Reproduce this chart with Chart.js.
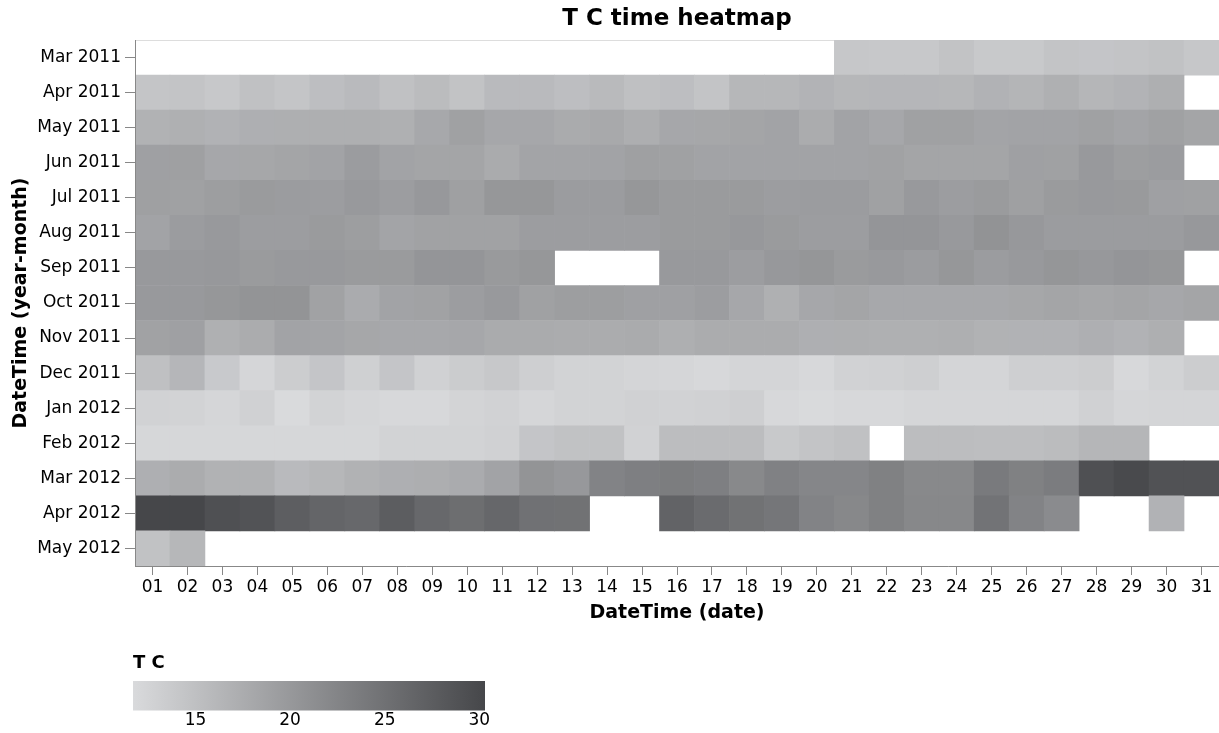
<!DOCTYPE html>
<html>
<head>
<meta charset="utf-8">
<script src="https://cdn.jsdelivr.net/npm/chart.js@4"></script>
<style>
  body { margin: 0; background: #fff; }
  #wrap { position: relative; width: 1219px; height: 733px; }
  #main { position: absolute; left: 0; top: 0; width: 1219px; height: 733px; }
  #scale { position: absolute; left: 0; top: 640px; width: 520px; height: 93px; }
</style>
</head>
<body>
<div id="wrap">
  <div id="main"><canvas id="heat"></canvas></div>
  <div id="scale"><canvas id="legend"></canvas></div>
</div>
<script>
// T C (temperature) per day, one array per month, null = no reading
const months = ["Mar 2011", "Apr 2011", "May 2011", "Jun 2011", "Jul 2011", "Aug 2011", "Sep 2011",
  "Oct 2011", "Nov 2011", "Dec 2011", "Jan 2012", "Feb 2012", "Mar 2012", "Apr 2012", "May 2012"];
const days = [1, 2, 3, 4, 5, 6, 7, 8, 9, 10, 11, 12, 13, 14, 15, 16, 17, 18, 19, 20,
  21, 22, 23, 24, 25, 26, 27, 28, 29, 30, 31];

const mar2011 = [null, null, null, null, null, null, null, null, null, null,
  null, null, null, null, null, null, null, null, null, null,
  14.1, 14.0, 14.0, 14.6, 13.9, 13.9, 14.5, 14.3, 14.5, 14.8, 14.1];
const apr2011 = [14.4, 14.5, 14.0, 14.9, 14.4, 15.2, 15.7, 14.9, 15.5, 14.6,
  15.7, 15.7, 15.2, 15.8, 15.0, 15.2, 14.5, 16.1, 16.1, 16.6,
  16.1, 16.2, 16.2, 16.1, 16.7, 16.4, 17.0, 16.3, 16.6, 17.2, null];
const may2011 = [16.8, 17.0, 16.7, 17.1, 17.2, 17.2, 17.2, 17.0, 18.0, 18.9,
  18.1, 18.1, 17.7, 17.9, 17.3, 18.1, 18.2, 18.4, 18.6, 17.5,
  18.6, 18.1, 18.9, 18.9, 18.5, 18.6, 18.6, 18.9, 18.5, 18.9, 18.4];
const jun2011 = [19.0, 19.1, 18.1, 18.2, 18.4, 18.6, 19.5, 18.6, 18.4, 18.4,
  17.7, 18.5, 18.5, 18.6, 19.1, 18.9, 18.6, 18.6, 18.6, 18.6,
  18.6, 18.8, 18.4, 18.4, 18.4, 19.0, 18.9, 19.9, 19.3, 19.5, null];
const jul2011 = [19.1, 18.9, 19.3, 19.7, 19.5, 19.4, 19.9, 19.4, 20.0, 19.1,
  20.2, 20.2, 19.5, 19.5, 20.2, 19.7, 19.7, 19.7, 19.4, 19.5,
  19.5, 18.9, 19.9, 19.4, 19.7, 19.1, 19.7, 19.9, 19.8, 19.0, 18.9];
const aug2011 = [18.6, 19.5, 19.9, 19.4, 19.4, 19.7, 19.3, 18.5, 18.8, 18.8,
  18.8, 19.4, 19.4, 19.4, 19.4, 19.7, 19.7, 20.0, 19.7, 19.4,
  19.4, 20.4, 20.4, 19.9, 20.7, 20.0, 19.5, 19.5, 19.5, 19.5, 20.0];
const sep2011 = [19.9, 19.9, 20.0, 19.7, 19.9, 19.9, 19.7, 19.7, 20.4, 20.4,
  19.8, 20.2, null, null, null, 19.9, 19.9, 19.4, 20.0, 20.3,
  19.7, 19.9, 19.5, 20.2, 19.5, 19.9, 20.3, 20.0, 20.4, 20.2, null];
const oct2011 = [19.9, 19.9, 20.2, 20.6, 20.6, 18.8, 17.6, 18.6, 18.8, 19.4,
  19.9, 18.9, 19.3, 19.3, 19.0, 19.0, 19.4, 18.1, 17.0, 18.1,
  18.4, 18.0, 18.0, 18.0, 18.0, 18.2, 18.4, 18.2, 18.4, 18.1, 18.4];
const nov2011 = [18.8, 19.0, 17.0, 17.5, 18.6, 18.5, 18.2, 18.0, 18.0, 18.1,
  17.7, 17.7, 17.5, 17.5, 17.7, 17.2, 17.5, 17.5, 17.5, 17.1,
  17.2, 17.0, 17.0, 17.2, 16.8, 16.7, 16.7, 17.1, 16.7, 17.2, null];
const dec2011 = [15.0, 16.2, 13.8, 12.2, 13.4, 14.3, 13.0, 14.3, 12.9, 13.5,
  14.0, 13.1, 12.6, 12.6, 12.3, 12.2, 12.0, 12.3, 12.3, 12.0,
  12.7, 12.9, 13.1, 12.3, 12.3, 13.1, 13.1, 13.4, 12.0, 12.6, 13.4];
const jan2012 = [12.7, 12.6, 12.2, 12.9, 11.7, 12.6, 12.2, 12.0, 12.0, 12.5,
  12.7, 12.2, 12.6, 12.6, 12.9, 12.7, 12.9, 13.1, 12.0, 11.7,
  12.0, 12.0, 12.2, 12.2, 12.2, 12.2, 12.2, 12.9, 12.2, 12.3, 12.3];
const feb2012 = [12.1, 12.1, 12.1, 12.1, 12.1, 12.1, 12.1, 12.6, 12.6, 12.6,
  12.9, 14.3, 14.7, 14.7, 12.7, 15.4, 15.4, 15.4, 13.9, 14.5,
  14.9, null, 15.4, 15.4, 15.3, 15.3, 15.5, 16.3, 16.3, null, null];
const mar2012 = [17.1, 17.5, 16.8, 16.8, 15.7, 16.1, 16.8, 17.1, 17.3, 17.6,
  18.6, 20.6, 20.0, 22.7, 23.2, 23.5, 23.2, 22.0, 22.9, 22.3,
  22.3, 23.0, 22.0, 22.0, 23.8, 23.0, 23.6, 29.1, 29.9, 28.9, 28.9];
const apr2012 = [30.3, 30.3, 29.1, 28.8, 27.4, 26.5, 26.1, 27.5, 26.1, 25.4,
  26.2, 25.0, 24.9, null, null, 26.7, 25.7, 24.9, 24.3, 22.7,
  22.1, 23.0, 22.1, 22.1, 24.7, 22.7, 21.7, null, null, 16.7, null];
const may2012 = [14.8, 16.1, null, null, null, null, null, null, null, null,
  null, null, null, null, null, null, null, null, null, null,
  null, null, null, null, null, null, null, null, null, null, null];

const rows = [mar2011, apr2011, may2011, jun2011, jul2011, aug2011, sep2011,
  oct2011, nov2011, dec2011, jan2012, feb2012, mar2012, apr2012, may2012];
const legendTicks = [15, 20, 25, 30];

const allValues = rows.flat().filter(v => v !== null);
const tMin = Math.min(...allValues);
const tMax = Math.max(...allValues);

const light = [217, 218, 220];
const dark = [70, 71, 74];
function colorFor(t) {
  const f = (t - tMin) / (tMax - tMin);
  const c = light.map((l, i) => Math.round(l + (dark[i] - l) * f));
  return `rgb(${c[0]}, ${c[1]}, ${c[2]})`;
}

const cells = [];
rows.forEach((row, r) => {
  row.forEach((t, i) => {
    if (t === null) return;
    cells.push({ x: [days[i] - 0.5, days[i] + 0.5], y: months[r], t: t });
  });
});

const font = "'DejaVu Sans', sans-serif";
Chart.defaults.font.family = font;
Chart.defaults.color = "#000";

const frame = {
  id: "frame",
  beforeDatasetsDraw(chart) {
    const { ctx, chartArea: a } = chart;
    ctx.save();
    ctx.strokeStyle = "#ddd";
    ctx.lineWidth = 1;
    ctx.strokeRect(a.left + 0.5, a.top + 0.5, a.right - a.left, a.bottom - a.top);
    ctx.restore();
  },
};

new Chart(document.getElementById("heat"), {
  type: "bar",
  data: {
    labels: months,
    datasets: [{
      data: cells,
      backgroundColor: (ctx) => (ctx.raw ? colorFor(ctx.raw.t) : "transparent"),
      borderWidth: 0,
      barPercentage: 1,
      categoryPercentage: 1,
    }],
  },
  options: {
    indexAxis: "y",
    responsive: true,
    maintainAspectRatio: false,
    animation: false,
    layout: { padding: { top: 0, left: 0, right: 0, bottom: 108.8 } },
    plugins: {
      legend: { display: false },
      tooltip: { enabled: false },
      title: {
        display: true,
        text: "T C time heatmap",
        fullSize: false,
        font: { size: 23, weight: "bold" },
        color: "#000",
        padding: { top: 5, bottom: 7.4 },
      },
    },
    scales: {
      x: {
        type: "linear",
        position: "bottom",
        min: 0.5,
        max: 31.5,
        afterBuildTicks: (scale) => {
          scale.ticks = days.map((d) => ({ value: d }));
        },
        ticks: {
          autoSkip: false,
          maxRotation: 0,
          padding: 2,
          color: "#000",
          font: { size: 17 },
          callback: (v) => String(v).padStart(2, "0"),
        },
        grid: { drawOnChartArea: false, tickLength: 9, color: "#888" },
        border: { display: true, color: "#888", z: 1 },
        title: {
          display: true,
          text: "DateTime (date)",
          font: { size: 19, weight: "bold" },
          color: "#000",
          padding: { top: 2, bottom: 0 },
        },
      },
      y: {
        type: "category",
        afterFit: (scale) => { scale.width = 135; },
        ticks: { padding: 4, color: "#000", font: { size: 17 } },
        grid: { offset: false, drawOnChartArea: false, tickLength: 10, color: "#888" },
        border: { display: true, color: "#888", z: 1 },
        title: {
          display: true,
          text: "DateTime (year-month)",
          font: { size: 19, weight: "bold" },
          color: "#000",
          padding: { top: 10, bottom: 0 },
        },
      },
    },
  },
  plugins: [frame],
});

// colour legend: one floating bar over the value range, filled with the ramp
new Chart(document.getElementById("legend"), {
  type: "bar",
  data: {
    labels: ["T C"],
    datasets: [{
      data: [[tMin, tMax]],
      borderWidth: 0,
      barPercentage: 1,
      categoryPercentage: 1,
      backgroundColor: (ctx) => {
        const area = ctx.chart.chartArea;
        if (!area) return colorFor(tMin);
        const g = ctx.chart.ctx.createLinearGradient(area.left, 0, area.right, 0);
        g.addColorStop(0, colorFor(tMin));
        g.addColorStop(1, colorFor(tMax));
        return g;
      },
    }],
  },
  options: {
    indexAxis: "y",
    responsive: true,
    maintainAspectRatio: false,
    animation: false,
    layout: { padding: { left: 133, right: 35, top: 0, bottom: 2 } },
    plugins: {
      legend: { display: false },
      tooltip: { enabled: false },
      title: {
        display: true,
        text: "T C",
        align: "start",
        fullSize: false,
        font: { size: 18, weight: "bold" },
        color: "#000",
        padding: { top: 12.7, bottom: 6.7 },
      },
    },
    scales: {
      x: {
        type: "linear",
        min: tMin,
        max: tMax,
        afterBuildTicks: (scale) => {
          scale.ticks = legendTicks.map((v) => ({ value: v }));
        },
        ticks: { padding: 0, color: "#000", font: { size: 17 }, maxRotation: 0 },
        grid: { display: false, drawTicks: false },
        border: { display: false },
      },
      y: { display: false },
    },
  },
});
</script>
</body>
</html>
